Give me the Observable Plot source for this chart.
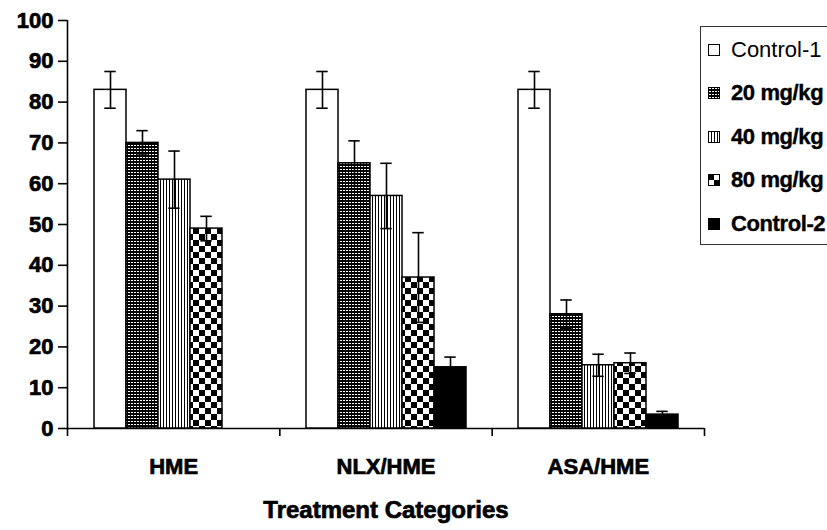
<!DOCTYPE html>
<html>
<head>
<meta charset="utf-8">
<script src="https://cdn.jsdelivr.net/npm/d3@7"></script>
<script src="https://cdn.jsdelivr.net/npm/@observablehq/plot@0.6"></script>
<style>
  html, body { margin: 0; padding: 0; background: #fff; }
  #wrap { position: relative; width: 827px; height: 530px; overflow: hidden; background: #fff;
          font-family: "Liberation Sans", Arial, sans-serif; }
  .layer { position: absolute; left: 0; top: 0; }
  .layer svg { display: block; }
  #axes g[aria-label^="y-axis"] line, #axes g[aria-label^="y-axis"] path { stroke-width: 1.6px; stroke: #000; }
  #axes text { stroke: #000; stroke-width: 0.7px; paint-order: stroke; }
  #axes text.title { font-size: 24px; }
  #legend { position: absolute; left: 700px; top: 26px; width: 150px; height: 219px;
            border: 1.5px solid #333; border-right: none; background: #fff; box-sizing: border-box;
            padding-top: 1px; }
  .item { height: 43.5px; display: flex; align-items: center; font-size: 22px; color: #000; white-space: nowrap; }
  .item svg { margin-left: 7px; margin-right: 11px; flex: none; }
  .item.bold { font-weight: bold; letter-spacing: -0.4px; -webkit-text-stroke: 0.4px #000; }
</style>
</head>
<body>
<svg width="0" height="0" style="position:absolute">
  <defs>
    <pattern id="pat20" width="3" height="3" patternUnits="userSpaceOnUse">
      <rect width="3" height="3" fill="#000"/>
      <rect x="1" y="1" width="2" height="1" fill="#fff"/>
    </pattern>
    <pattern id="pat40" width="3" height="3" patternUnits="userSpaceOnUse">
      <rect width="3" height="3" fill="#fff"/>
      <rect x="0" y="0" width="1" height="3" fill="#000"/>
    </pattern>
    <pattern id="pat80" width="12" height="12" patternUnits="userSpaceOnUse">
      <rect width="12" height="12" fill="#fff"/>
      <rect x="0" y="0" width="6" height="6" fill="#000"/>
      <rect x="6" y="6" width="6" height="6" fill="#000"/>
    </pattern>
  </defs>
</svg>
<div id="wrap">
  <div id="axes" class="layer"></div>
  <div id="bars" class="layer"></div>
  <div id="legend"></div>
</div>
<script>
// ---- data ----
const groups = ["HME", "NLX/HME", "ASA/HME"];
const series = ["Control-1", "20 mg/kg", "40 mg/kg", "80 mg/kg", "Control-2"];
const means = [
  [83, 70, 61, 49, null],
  [83, 65, 57, 37, 15],
  [83, 28, 15.5, 16, 3.4]
];
const errors = [
  [4.5, 3, 7, 3, null],
  [4.5, 5.5, 8, 11, 2.5],
  [4.5, 3.5, 2.7, 2.5, 0.8]
];
const yTicks = [0, 10, 20, 30, 40, 50, 60, 70, 80, 90, 100];
const xTitle = "Treatment Categories";

// ---- styles ----
const seriesFills = ["#fff", "url(#pat20)", "url(#pat40)", "url(#pat80)", "#000"];
const boldLegend = [false, true, true, true, true];

const rows = groups.flatMap((g, gi) =>
  series.map((s, si) => ({group: g, series: s, value: means[gi][si], error: errors[gi][si]}))
);
const boundaries = d3.range(groups.length + 1);

const W = 827, H = 530;
const margins = {marginLeft: 67, marginRight: 123, marginTop: 20, marginBottom: 102};

// Axes layer (category axis uses a linear scale over group index, band edges at integers)
const axes = Plot.plot({
  width: W, height: H, ...margins,
  style: {background: "#fff", fontFamily: "'Liberation Sans', Arial, sans-serif", fontSize: "22px", fontWeight: "bold", color: "#000", overflow: "visible"},
  x: {domain: [0, groups.length], axis: null},
  y: {domain: [0, 100], ticks: yTicks, tickSize: 9, tickPadding: 5, tickFormat: d => String(d), label: null},
  marks: [
    Plot.ruleX([0], {stroke: "#000", strokeWidth: 1.6}),
    Plot.ruleY([0], {stroke: "#000", strokeWidth: 1.6}),
    Plot.ruleX(boundaries, {x: d => d, y1: 0, y2: 0, insetBottom: -8, stroke: "#000", strokeWidth: 1.6}),
    Plot.text(groups, {x: (d, i) => i + 0.5, frameAnchor: "bottom", dy: 45, text: d => d}),
    Plot.text([xTitle], {x: () => groups.length / 2, frameAnchor: "bottom", dy: 89, text: d => d})
  ]
});
document.getElementById("axes").appendChild(axes);
axes.querySelectorAll("text").forEach(t => {
  if (t.textContent === xTitle) t.classList.add("title");
});

// Bars layer
const bars = Plot.plot({
  width: W, height: H, ...margins,
  style: {background: "transparent", overflow: "visible"},
  facet: {data: rows, x: "group"},
  fx: {domain: groups, paddingInner: 0.23, paddingOuter: 0.115, axis: null, label: null},
  x: {domain: series, padding: 0, axis: null},
  y: {domain: [0, 100], axis: null},
  color: {type: "ordinal", domain: series, range: seriesFills},
  marks: [
    Plot.barY(rows, {filter: d => d.value != null, x: "series", y: "value", fill: "series", stroke: "#000", strokeWidth: 1.5}),
    Plot.ruleX(rows, {filter: d => d.error != null, x: "series", y1: d => d.value - d.error, y2: d => d.value + d.error, stroke: "#000", strokeWidth: 1.6}),
    Plot.tickY(rows, {filter: d => d.error != null, x: "series", y: d => d.value + d.error, inset: 10.3, stroke: "#000", strokeWidth: 1.6}),
    Plot.tickY(rows, {filter: d => d.error != null, x: "series", y: d => d.value - d.error, inset: 10.3, stroke: "#000", strokeWidth: 1.6})
  ]
});
document.getElementById("bars").appendChild(bars);

// Legend
const legend = d3.select("#legend");
series.forEach((s, i) => {
  const item = legend.append("div").attr("class", "item" + (boldLegend[i] ? " bold" : ""));
  const sw = item.append("svg").attr("width", 12).attr("height", 12);
  sw.append("rect").attr("x", 0.5).attr("y", 0.5).attr("width", 11).attr("height", 11)
    .attr("fill", seriesFills[i]).attr("stroke", "#000").attr("stroke-width", 1);
  item.append("span").text(s);
});
</script>
</body>
</html>
